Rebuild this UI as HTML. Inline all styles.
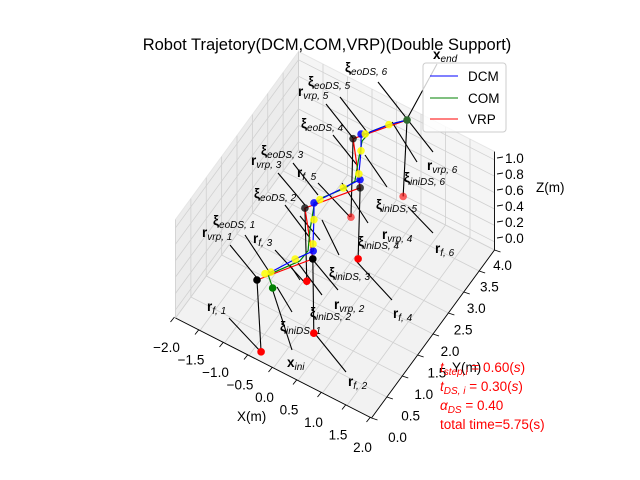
<!DOCTYPE html>
<html><head><meta charset="utf-8"><style>
body{margin:0;background:#fff}
svg{display:block;font-family:"Liberation Sans",sans-serif}
</style></head><body>
<svg id="chart" width="640" height="480" viewBox="0 0 640 480">
<rect width="640" height="480" fill="#fff"/>
<g id="panes"></g><g id="grid"></g><g id="axes"></g><g id="anno"></g><g id="series"></g><g id="dots"></g>
<text x="327" y="50" font-size="16.5" text-anchor="middle">Robot Trajetory(DCM,COM,VRP)(Double Support)</text>
<g>
<rect x="423" y="63" width="83" height="69" rx="3" fill="#fff" fill-opacity="0.8" stroke="#ccc"/>
<line x1="430" y1="76" x2="458" y2="76" stroke="#0000ff"/>
<text x="468" y="81" font-size="13.5">DCM</text>
<line x1="430" y1="98" x2="458" y2="98" stroke="#008000"/>
<text x="468" y="103" font-size="13.5">COM</text>
<line x1="430" y1="119" x2="458" y2="119" stroke="#ff0000"/>
<text x="468" y="124" font-size="13.5">VRP</text>
</g>
<text x="237" y="421" font-size="13.5">X(m)</text>
<text x="452" y="372" font-size="13.5">Y(m)</text>
<text x="536" y="192" font-size="13.5">Z(m)</text>
<g fill="#ff0000" font-size="13.5">
<text x="440" y="372"><tspan font-style="italic">t</tspan><tspan font-size="10" font-style="italic" dy="3">step,i</tspan><tspan dy="-3"> = 0.60(</tspan><tspan font-style="italic">s</tspan>)</text>
<text x="440" y="391"><tspan font-style="italic">t</tspan><tspan font-size="10" font-style="italic" dy="3">DS, i</tspan><tspan dy="-3"> = 0.30(</tspan><tspan font-style="italic">s</tspan>)</text>
<text x="440" y="410"><tspan font-style="italic">α</tspan><tspan font-size="10" font-style="italic" dy="3">DS</tspan><tspan dy="-3"> = 0.40</tspan></text>
<text x="440" y="429">total time=5.75(s)</text>
</g>
</svg>
<script>
// ---- data ----
const xTicks=[-2.0,-1.5,-1.0,-0.5,0.0,0.5,1.0,1.5,2.0];
const yTicks=[0.0,0.5,1.0,1.5,2.0,2.5,3.0,3.5,4.0];
const zTicks=[0.0,0.2,0.4,0.6,0.8,1.0];
const zTickLabels=["0.0","0.2","0.4","0.6","0.8","1.0"];
const vrpX=[-0.40,0.20,-0.47,0.13,-0.51,0.09];
const vrpY=[0.10,0.96,1.77,2.61,3.40,4.20];
const pathZ=0.9;
const footX=[-0.36,0.22,-0.45,0.07,-0.49,0.06];
const footY=[0.17,0.96,1.80,2.64,3.30,4.12];
const dcmX=[-0.31,-0.28,-0.06,0.12,0.04,-0.21,-0.39,-0.34,-0.12,0.04,-0.04,-0.26,-0.44,-0.38,-0.13,0.09];
const dcmY=[0.32,0.36,0.80,1.10,1.22,1.65,1.94,2.05,2.46,2.75,2.84,3.26,3.55,3.59,3.96,4.20];
const comX=[-0.08,-0.29,0.03,0.04,-0.15,-0.36,-0.33,-0.09,-0.02,-0.19,-0.35,-0.33,-0.13,0.09];
const comY=[0.10,0.29,0.81,1.06,1.42,1.89,2.10,2.47,2.68,3.06,3.44,3.67,3.96,4.20];
const yellowX=[-0.35,-0.28,-0.06,0.04,-0.21,-0.34,-0.12,-0.04,-0.26,-0.38,-0.13];
const yellowY=[0.28,0.36,0.80,1.22,1.65,2.05,2.46,2.84,3.26,3.59,3.96];
const blueX=[0.12,-0.39,0.04,-0.44];
const blueY=[1.10,1.94,2.75,3.55];
const xLim=[-2,2], yLim=[0,4], zLim=[0,1.2];

const NS="http://www.w3.org/2000/svg";
function P(x,y,z){return [273.5+49*x+30.75*y, 368+25*x-42*y-82*z];}
function el(parent,tag,attrs){const e=document.createElementNS(NS,tag);for(const k in attrs)e.setAttribute(k,attrs[k]);document.getElementById(parent).appendChild(e);return e;}
function line(parent,a,b,stroke,w){return el(parent,'line',{x1:a[0],y1:a[1],x2:b[0],y2:b[1],stroke:stroke,'stroke-width':w});}
function poly(pts){return pts.map(p=>p[0].toFixed(1)+','+p[1].toFixed(1)).join(' ');}

// panes
const [x0,x1]=xLim,[y0,y1]=yLim,[z0,z1]=zLim;
let e;
e=el('panes','polygon',{points:poly([P(x0,y0,z0),P(x1,y0,z0),P(x1,y1,z0),P(x0,y1,z0)]),fill:'#f2f2f2',stroke:'#e6e6e6'});


e=el('panes','polygon',{points:poly([P(x0,y0,z0),P(x0,y1,z0),P(x0,y1,z1),P(x0,y0,z1)]),fill:'#ececec',stroke:'#e6e6e6'});


e=el('panes','polygon',{points:poly([P(x0,y1,z0),P(x1,y1,z0),P(x1,y1,z1),P(x0,y1,z1)]),fill:'#f5f5f5',stroke:'#e6e6e6'});



// grid
const gc='#d0d0d0';
xTicks.forEach(x=>{
  e=line('grid',P(x,y0,z0),P(x,y1,z0),gc,0.8);
  
  
  e=line('grid',P(x,y1,z0),P(x,y1,z1),gc,0.8);
  
  
});
yTicks.forEach(y=>{
  e=line('grid',P(x0,y,z0),P(x1,y,z0),gc,0.8);
  
  
  e=line('grid',P(x0,y,z0),P(x0,y,z1),gc,0.8);
  
  
});
zTicks.forEach(z=>{
  const zz=z+0.1;
  e=line('grid',P(x0,y0,zz),P(x0,y1,zz),gc,0.8);
  
  
  e=line('grid',P(x0,y1,zz),P(x1,y1,zz),gc,0.8);
  
  
});

// axes
e=line('axes',P(x0,y0,z0),P(x1,y0,z0),'#000',0.9);


e=line('axes',P(x1,y0,z0),P(x1,y1,z0),'#000',0.9);


e=line('axes',P(x1,y1,z0),P(x1,y1,z1),'#000',0.9);


xTicks.forEach(x=>{
  const p=P(x,y0,z0);
  e=line('axes',[p[0]-1,p[1]-1],[p[0]-5,p[1]+4],'#000',0.9);
  
  
  e=el('axes','text',{x:p[0]-9,y:p[1]+34,'font-size':13.5,'text-anchor':'middle'});
  e.textContent=x.toFixed(1).replace('-','−');
  
  
});
yTicks.forEach(y=>{
  const p=P(x1,y,z0);
  e=line('axes',[p[0],p[1]],[p[0]+6,p[1]+2],'#000',0.9);
  
  
  e=el('axes','text',{x:p[0]+26-4.5*y,y:p[1]+24-1*y,'font-size':13.5,'text-anchor':'middle'});
  e.textContent=y.toFixed(1);
  
  
});
zTicks.forEach((z,i)=>{
  const yy=238-80*z;
  e=line('axes',[497,yy],[503,yy-1],'#000',0.9);
  
  
  e=el('axes','text',{x:505,y:yy+5,'font-size':13.5});
  e.textContent=zTickLabels[i];
  
  
});

// annotations (label, subscript, text pos, leader line)
const annos=[
 ['x','end',433,59,[437,64,407,119]],
 ['ξ','eoDS, 6',345,72,[378,82,433,152]],
 ['ξ','eoDS, 5',308,86,[340,97,367,132]],
 ['r','vrp, 5',298,96,[326,104,353,138]],
 ['ξ','eoDS, 4',301,128,[333,135,357,165]],
 ['ξ','eoDS, 3',261,155,[293,163,318,195]],
 ['r','vrp, 3',251,165,[278,173,305,205]],
 ['r','f, 5',297,177,[318,183,350,217]],
 ['ξ','eoDS, 2',254,198,[285,205,310,238]],
 ['ξ','eoDS, 1',213,225,[245,235,270,273]],
 ['r','vrp, 1',202,237,[230,245,257,278]],
 ['r','f, 3',253,243,[275,250,307,285]],
 ['r','vrp, 6',427,170,[392,122,417,162]],
 ['ξ','iniDS, 6',404,182,[365,155,387,187]],
 ['ξ','iniDS, 5',376,209,[342,183,368,223]],
 ['r','vrp, 4',382,239,[322,220,339,255]],
 ['ξ','iniDS, 4',358,246,[300,216,320,240]],
 ['r','f, 6',435,253,[408,207,433,233]],
 ['ξ','iniDS, 3',329,277,[313,260,338,290]],
 ['r','f, 4',393,318,[357,262,392,300]],
 ['r','vrp, 2',334,309,[298,263,322,295]],
 ['ξ','iniDS, 2',310,317,[290,265,300,280]],
 ['r','f, 1',207,311,[229,318,261,352]],
 ['ξ','iniDS, 1',280,331,[277,287,292,312]],
 ['x','ini',287,367,[272,288,292,350]],
 ['r','f, 2',348,386,[316,335,346,372]]
];
annos.forEach(a=>{
  const L=a[4];
  e=line('anno',[L[0],L[1]],[L[2],L[3]],'#000',1.1);
  
  
  const t=el('anno','text',{x:a[2],y:a[3],'font-size':13.5});
  
  
  const m=document.createElementNS(NS,'tspan');m.setAttribute('font-weight','bold');m.textContent=a[0];t.appendChild(m);
  const s=document.createElementNS(NS,'tspan');s.setAttribute('font-size','10');s.setAttribute('font-style','italic');s.setAttribute('dy','3');s.textContent=a[1];t.appendChild(s);
});

// vertical VRP-to-foot lines
vrpX.forEach((x,i)=>{
  e=line('series',P(vrpX[i],vrpY[i],pathZ),P(footX[i],footY[i],0),'#000',1.1);
  
  
});
// series
e=el('series','polyline',{points:poly(vrpX.map((x,i)=>P(x,vrpY[i],pathZ))),fill:'none',stroke:'#ff0000','stroke-width':1.2});


e=el('series','polyline',{points:poly(comX.map((x,i)=>P(x,comY[i],pathZ))),fill:'none',stroke:'#008000','stroke-width':1.2,'stroke-linejoin':'round'});


e=el('series','polyline',{points:poly(dcmX.map((x,i)=>P(x,dcmY[i],pathZ))),fill:'none',stroke:'#0000ff','stroke-width':1.2,'stroke-linejoin':'round'});



// dots
function dot(p,fill,op,name){
  const c=el('dots','circle',{cx:p[0],cy:p[1],r:3.8,fill:fill,'fill-opacity':op});
  
  
}
footX.forEach((x,i)=>dot(P(x,footY[i],0),'#ff0000',i<4?1:0.6,'foot-point'));
blueX.forEach((x,i)=>dot(P(x,blueY[i],pathZ),'#0000ff',0.85,'dcm-eods-point'));
yellowX.forEach((x,i)=>dot(P(x,yellowY[i],pathZ),'#ffff00',0.85,'dcm-inids-point'));
vrpX.slice(0,5).forEach((x,i)=>dot(P(x,vrpY[i],pathZ),'#000000',i<2?1:0.75,'vrp-point'));
dot(P(comX[0],comY[0],pathZ),'#008000',1,'x-ini-point');
dot(P(vrpX[5],vrpY[5],pathZ),'#2e6b2e',1,'x-end-point');
</script>
</body></html>
